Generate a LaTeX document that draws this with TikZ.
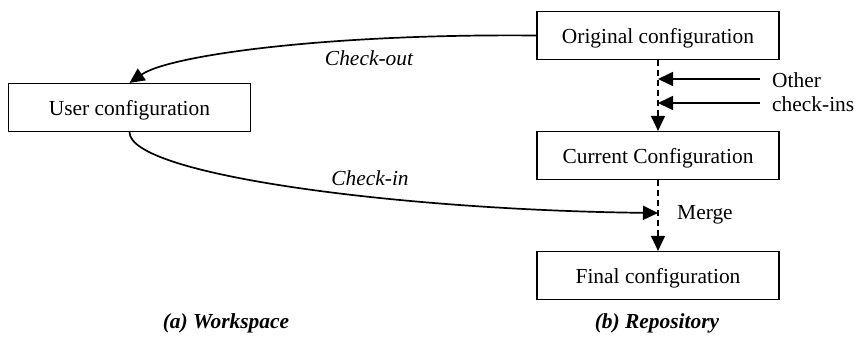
\documentclass[tikz,border=0pt]{standalone}
\usepackage{fontspec}
\setmainfont{Liberation Serif}
\usetikzlibrary{arrows.meta}
\begin{document}
\begin{tikzpicture}[x=1bp,y=-1bp,
  box/.style={draw,line width=1.2bp,minimum width=242bp,minimum height=48bp,inner sep=0pt,text height=18bp,text depth=2bp},
  conn/.style={line width=1.7bp,-{Triangle[length=15bp,width=14bp]}},
  dconn/.style={line width=1.4bp,dash pattern=on 6bp off 4bp,-{Triangle[length=15bp,width=14bp]}},
  lbl/.style={inner sep=0pt},
  font=\fontsize{21.5}{24.5}\selectfont]
\useasboundingbox (0,0) rectangle (859,336);
\node[box] (user) at (129.5,107.5) {User configuration};
\node[box] (orig) at (658,35.5) {Original configuration};
\node[box] (cur) at (658,155.5) {Current Configuration};
\node[box] (fin) at (658,275.5) {Final configuration};
\coordinate (m) at (658,213);
\coordinate (o1s) at (760,79);
\coordinate (o1e) at (658,79);
\coordinate (o2s) at (760,103);
\coordinate (o2e) at (658,103);
\draw[dconn] (orig.south) -- (cur.north);
\draw[dconn] (cur.south) -- (fin.north);
\draw[conn] (o1s) -- (o1e);
\draw[conn] (o2s) -- (o2e);
\draw[conn] (orig.west) .. controls +(-207,-2) and +(40.5,-28) .. (user.north);
\draw[conn] (user.south) .. controls +(0,43) and +(-258,-3) .. (m);
\node[lbl,anchor=west,align=left] (other) at (772,92) {Other\\check-ins};
\node[lbl,anchor=west] (merge) at (677,215) {Merge};
\node[lbl] (cout) at (369,58) {\itshape Check-out};
\node[lbl] (cin) at (370,178) {\itshape Check-in};
\node[lbl] (capa) at (226,323.5) {\bfseries\itshape (a) Workspace};
\node[lbl] (capb) at (657,323.5) {\bfseries\itshape (b) Repository};
\end{tikzpicture}
\end{document}
